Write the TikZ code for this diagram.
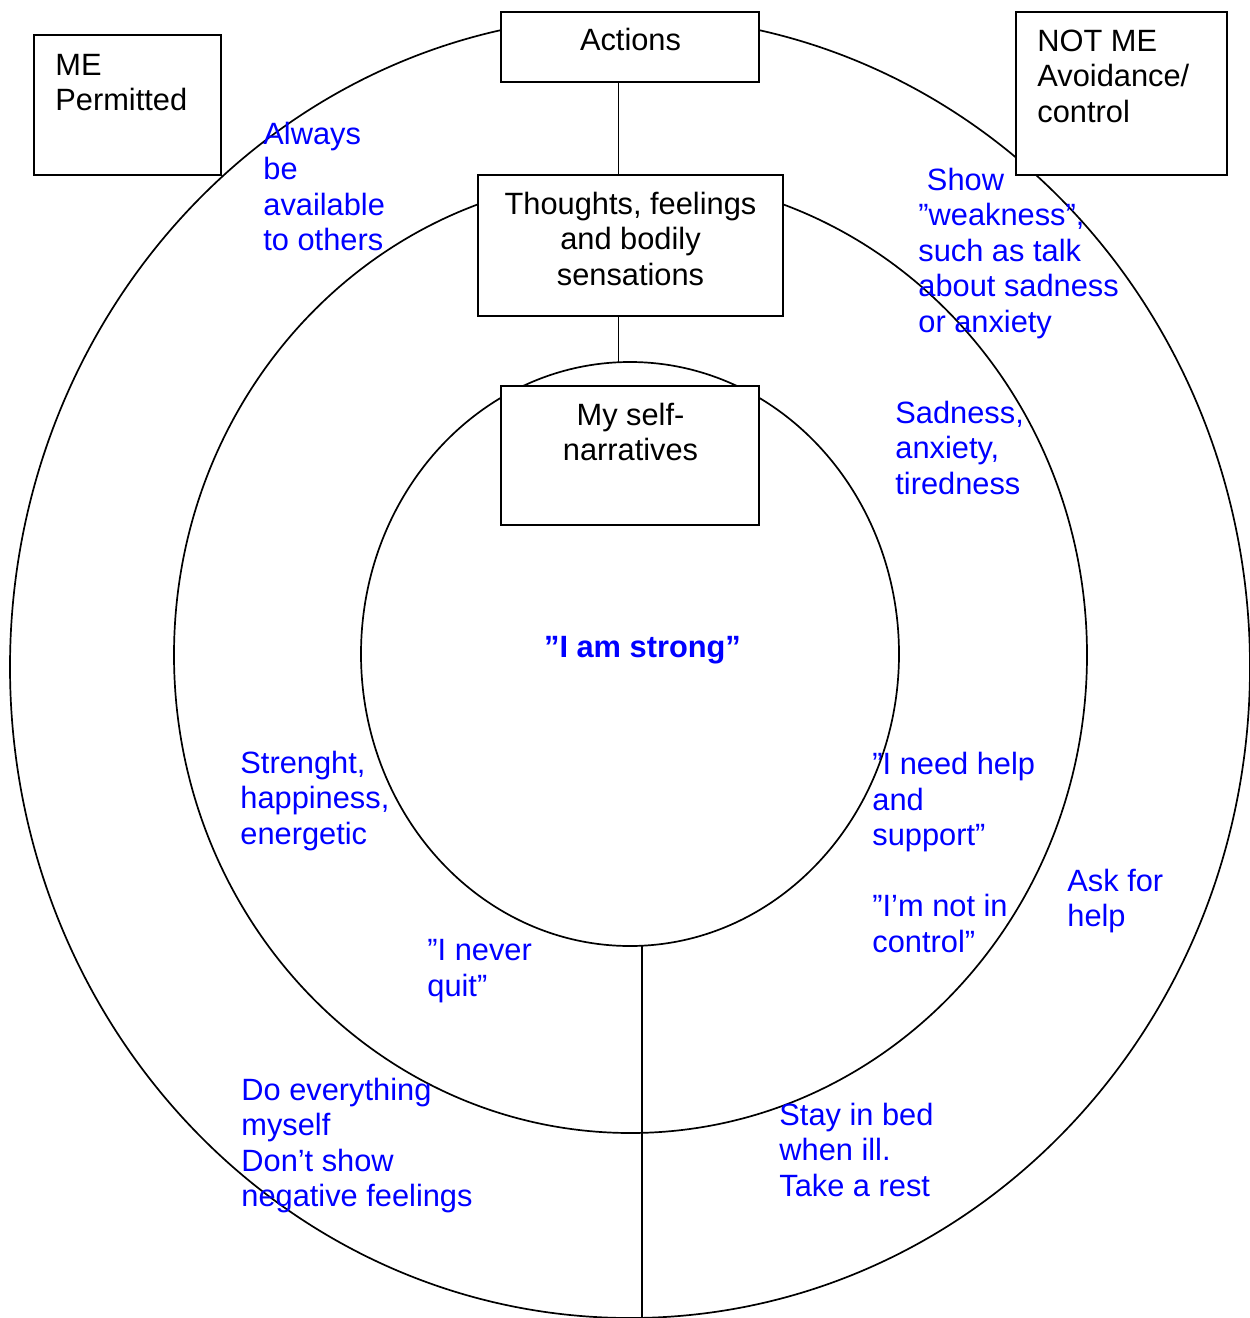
\documentclass[tikz,border=0pt]{standalone}
\usepackage{fontspec}
\setmainfont{Liberation Sans}
\usetikzlibrary{shapes.geometric}

\begin{document}
\begin{tikzpicture}[x=0.5pt, y=-0.5pt,
    ring/.style={draw, ellipse, line width=0.85pt, inner sep=0pt, outer sep=0pt},
    box/.style={draw, fill=white, line width=0.85pt, inner sep=0pt, outer sep=0pt, anchor=north west},
    link/.style={line width=0.85pt},
    head/.style={inner sep=0pt, anchor=base, align=center, font=\fontsize{15.4}{17.75}\selectfont},
    corner/.style={inner sep=0pt, anchor=base west, align=left, font=\fontsize{15.4}{17.75}\selectfont},
    note/.style={corner, text=blue}]
    \useasboundingbox (0,0) rectangle (1249,1318);

    % The three rings (drawn first, boxes cover them)
    \node[ring, minimum width=620pt, minimum height=651pt] (outer) at (630,667) {};
    \node[ring, minimum width=456.5pt, minimum height=478pt] (middle) at (630.5,655) {};
    \node[ring, minimum width=269pt, minimum height=292pt] (core) at (630,654) {};

    % x positions of the vertical lines
    \coordinate (spine) at (618.5,0);
    \coordinate (stem) at (642,1318);

    % Boxes
    \node[box, minimum width=93.5pt, minimum height=70pt] (mebox) at (34,35) {};
    \node[box, minimum width=105.5pt, minimum height=81.5pt] (notmebox) at (1016,12) {};
    \node[box, minimum width=129pt, minimum height=35pt] (actions) at (501,12) {};
    \node[box, minimum width=152.5pt, minimum height=70.5pt] (thoughts) at (478,175) {};
    \node[box, minimum width=129pt, minimum height=69.5pt] (narratives) at (501,386) {};

    % Connectors
    \draw[link] (actions.south -| spine) -- (thoughts.north -| spine);
    \draw[link] (thoughts.south -| spine) -- (core.north -| spine);
    \draw[link] (core.south -| stem) -- (stem);

    % Box texts (placed at the baseline of their last line)
    \node[corner] (metext) at (55,110.5) {ME\\Permitted};
    \node[corner] (notmetext) at (1037,122) {NOT ME\\Avoidance/\\control};
    \node[head] (actionstext) at (630.5,50) {Actions};
    \node[head] (thoughtstext) at (630.5,285) {Thoughts, feelings\\and bodily\\sensations};
    \node[head] (narrativestext) at (630.5,460.5) {My self-\\narratives};

    % Blue notes
    \node[head, text=blue, font=\fontsize{15.4}{17.75}\selectfont\bfseries] (strong) at (642.5,657) {”I am strong”};
    \node[note] (always) at (263,250.5) {Always\\be\\available\\to others};
    \node[note] (weakness) at (918,332) {\ Show\\”weakness”,\\such as talk\\about sadness\\or anxiety};
    \node[note] (sadness) at (895,494) {Sadness,\\anxiety,\\tiredness};
    \node[note] (strength) at (240,844) {Strenght,\\happiness,\\energetic};
    \node[note] (needhelp) at (872,952) {”I need help\\and\\support”\\[17.75pt]”I’m not in\\control”};
    \node[note] (askhelp) at (1067,926.5) {Ask for\\help};
    \node[note] (neverquit) at (427,996) {”I never\\quit”};
    \node[note] (rest) at (779,1196) {Stay in bed\\when ill.\\Take a rest};
    \node[note] (myself) at (241,1206.5) {Do everything\\myself\\Don’t show\\negative feelings};
\end{tikzpicture}
\end{document}
